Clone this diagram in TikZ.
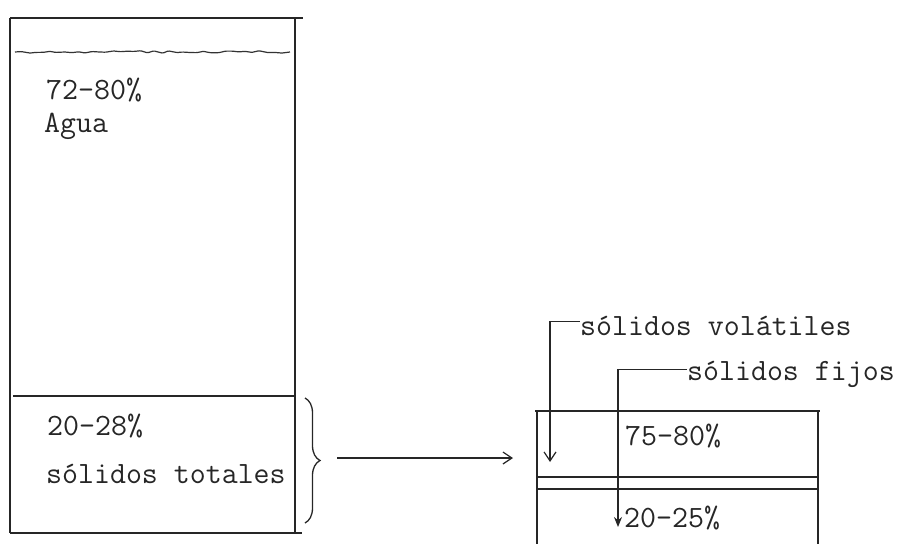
\documentclass[tikz,border=0pt]{standalone}
\usepackage{tikz}
\usetikzlibrary{arrows.meta, positioning, calc, decorations.pathreplacing, decorations.pathmorphing}

\begin{document}
\begin{tikzpicture}[
    x=1pt, y=1pt,
    every node/.style={font=\ttfamily\fontsize{31}{36}\selectfont, text=black!85, inner sep=0pt, anchor=base west},
    wall/.style={line width=1.3pt, black!85},
    leader/.style={line width=1.2pt, black!85},
    arrow/.style={-{Straight Barb[length=9pt, width=12pt, line width=1.2pt]}, line width=1.2pt, black!85}
]
    \useasboundingbox (0,0) rectangle (898,-544);

    % Whole sample
    \draw[wall] (10,-18) -- (303,-18);
    \draw[wall] (10,-18) -- (10,-533);
    \draw[wall] (295,-18) -- (295,-533);
    \draw[wall] (10,-533) -- (302,-533);
    \draw[wall] (13,-396) -- (295,-396);
    \draw[line width=1.2pt, black!80, decoration={random steps, segment length=7pt, amplitude=1.3pt}, rounded corners=1pt]
        decorate {(15,-52) -- (290,-52)};

    \node (agpct) at (46,-99) {72-80\%};
    \node (agua) at (44,-132) {Agua};
    \node (stpct) at (47,-435) {20-28\%};
    \node (totales) at (46,-483) {sólidos totales};

    % Brace and arrow to solids
    \draw[wall, decorate, decoration={brace, amplitude=15pt}] (305,-398) -- (305,-523);
    \coordinate (bracetip) at (337,-458);
    \coordinate (arrowend) at (513,-458);
    \draw[arrow] (bracetip) -- (arrowend);

    % Solids
    \draw[wall] (535,-411) -- (820,-411);
    \draw[wall] (537,-411) -- (537,-544);
    \draw[wall] (818,-411) -- (818,-544);
    \draw[wall] (537,-477) -- (818,-477);
    \draw[wall] (537,-489) -- (818,-489);

    \node (volpct) at (625,-445) {75-80\%};
    \node (fijpct) at (624,-527) {20-25\%};

    \node (volatiles) at (580,-335) {sólidos volátiles};
    \node (fijos) at (687,-380) {sólidos fijos};

    \coordinate (voltip) at (550,-462);
    \coordinate (fijtip) at (618,-527);
    \draw[arrow] ($(volatiles.west)+(0,4)$) -| (voltip);
    \draw[leader, -{Stealth[length=10pt, width=8pt]}] ($(fijos.west)+(0,4)$) -| (fijtip);
\end{tikzpicture}
\end{document}
